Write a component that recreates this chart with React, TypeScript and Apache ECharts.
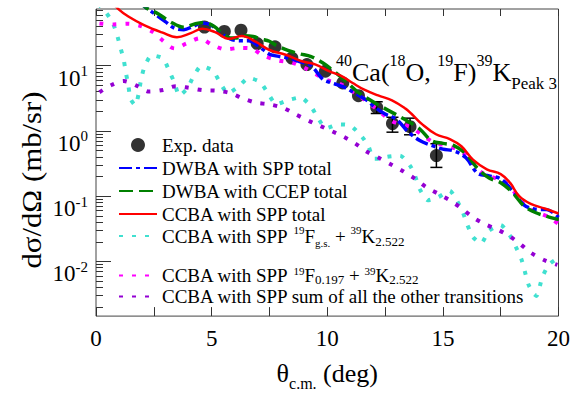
import React, { useEffect, useRef } from 'react';
import * as echarts from 'echarts';

// ---------- data (θ in deg, dσ/dΩ in mb/sr) ----------
const expTheta = [4.69, 5.55, 6.27, 6.97, 7.74, 8.47, 9.12, 9.92, 10.67, 11.35, 12.14, 12.82, 13.58, 14.72];
const expValue = [39.2, 33.5, 35.0, 21.8, 19.5, 13.1, 10.4, 8.25, 5.44, 3.47, 2.28, 1.30, 1.16, 0.419];
const errTheta = [12.14, 12.82, 13.58, 14.72];
const errLow = [1.85, 0.957, 0.873, 0.276];
const errHigh = [2.8, 1.62, 1.57, 0.637];

const redTheta = [0.5, 0.97, 1.4, 2.1, 2.85, 3.5, 4.1, 4.6, 5.15, 5.75, 6.3, 6.9, 7.5, 8.2, 8.9, 9.5, 10.1, 10.6, 11.1, 11.6, 12.2, 12.8, 13.4, 13.65, 14.1, 14.7, 15.3, 15.8, 16.3, 16.9, 17.5, 17.9, 18.3, 18.8, 19.4, 20];
const redValue = [112, 73.8, 56.8, 41.5, 32.4, 27.4, 31.6, 36.8, 32.7, 25.8, 28.6, 23.3, 17.4, 14.7, 11.7, 10.4, 8.17, 7.01, 5.43, 4.29, 3.50, 2.95, 2.18, 1.82, 1.27, 0.889, 0.750, 0.582, 0.363, 0.258, 0.218, 0.161, 0.100, 0.0762, 0.0646, 0.0543];

const greenTheta = [1.8, 2.2, 2.7, 3.2, 3.8, 4.3, 4.7, 5.1, 5.5, 5.8, 6.1, 6.4, 6.8, 7.1, 7.5, 7.8, 8.3, 8.8, 9.3, 9.8, 10.3, 10.8, 11.3, 11.8, 12.3, 12.9, 13.5, 14.0, 14.5, 15.0, 15.5, 16.0, 16.5, 17.0, 17.5, 18.0, 18.5, 19.0, 19.5, 20];
const greenValue = [100, 76.2, 62.2, 47.4, 38.7, 44.0, 45.9, 40.1, 30.5, 26.7, 26.7, 28.8, 28.1, 25.8, 23.7, 20.4, 17.2, 15.2, 13.8, 11.1, 8.17, 5.82, 4.01, 3.05, 2.41, 1.84, 1.40, 1.07, 0.713, 0.644, 0.592, 0.444, 0.267, 0.190, 0.161, 0.115, 0.0713, 0.0562, 0.0491, 0.0437];

const blueTheta = [1.8, 2.2, 2.6, 3.0, 3.4, 3.8, 4.2, 4.6, 5.0, 5.4, 5.8, 6.2, 6.6, 7.0, 7.5, 7.9, 8.3, 8.8, 9.3, 9.8, 10.2, 10.7, 11.2, 11.7, 12.1, 12.5, 13.0, 13.5, 14.0, 14.5, 15.0, 15.5, 16.0, 16.5, 17.0, 17.5, 18.0, 18.5, 19.0, 19.5, 20];
const blueValue = [100, 75.9, 60.1, 47.4, 37.5, 35.6, 40.1, 45.1, 41.5, 31.6, 25.8, 24.1, 24.1, 20.4, 15.0, 13.9, 13.1, 11.6, 10.0, 6.22, 5.43, 4.74, 3.78, 2.96, 2.25, 1.82, 1.50, 0.966, 0.713, 0.601, 0.526, 0.491, 0.387, 0.225, 0.204, 0.184, 0.122, 0.0738, 0.0632, 0.0622, 0.0474];

const magentaTheta = [0.15, 0.75, 1.35, 1.9, 2.45, 2.9, 3.4, 3.9, 4.5, 5.0, 5.6, 6.2, 6.7, 7.2, 7.9, 8.5, 9.0, 9.5, 10.0, 10.6, 11.3, 12.1, 12.8, 13.6, 14.1, 14.6, 15.1, 15.6, 16.1, 16.6, 17.1, 17.6, 18.1, 18.6, 19.1, 19.6, 20];
const magentaValue = [44.4, 42.9, 44.0, 41.0, 33.0, 24.1, 18.4, 21.8, 26.3, 21.1, 17.8, 18.7, 18.4, 14.5, 12.0, 11.1, 9.35, 7.45, 6.01, 5.16, 3.62, 2.22, 1.41, 1.15, 0.873, 0.667, 0.601, 0.526, 0.401, 0.241, 0.197, 0.172, 0.115, 0.0689, 0.0562, 0.0474, 0.0375];

const purpleTheta = [0.15, 0.65, 1.2, 1.8, 2.3, 2.9, 3.45, 4.0, 4.6, 5.2, 5.8, 6.3, 6.9, 7.5, 8.1, 8.6, 9.2, 9.7, 10.2, 10.7, 11.2, 11.7, 12.3, 12.8, 13.3, 13.8, 14.3, 14.8, 15.3, 15.8, 16.3, 16.8, 17.4, 17.9, 18.4, 18.8, 19.4, 19.95];
const purpleValue = [3.92, 5.02, 5.82, 4.86, 4.01, 4.25, 4.86, 4.59, 4.22, 4.15, 3.81, 3.21, 2.72, 2.55, 2.25, 1.82, 1.43, 1.19, 0.991, 0.817, 0.644, 0.483, 0.375, 0.301, 0.239, 0.184, 0.136, 0.109, 0.0865, 0.0655, 0.0474, 0.0375, 0.0303, 0.0241, 0.0178, 0.0136, 0.0104, 0.00883];

const cyanTheta = [0.1, 0.35, 0.7, 0.9, 1.05, 1.2, 1.3, 1.4, 1.5, 1.7, 1.85, 1.95, 2.1, 2.4, 2.9, 3.15, 3.4, 3.6, 3.95, 4.2, 4.55, 5.05, 5.35, 5.7, 6.15, 6.6, 7.1, 7.45, 7.8, 8.3, 8.85, 9.3, 9.6, 9.95, 10.5, 11.0, 11.5, 11.8, 12.0, 12.35, 12.6, 13.15, 13.6, 13.8, 14.0, 14.35, 14.8, 15.3, 15.6, 15.85, 16.05, 16.3, 16.65, 17.0, 17.5, 17.9, 18.15, 18.4, 18.55, 18.7, 18.9, 19.05, 19.3, 19.6, 20];
const cyanValue = [89.1, 71.3, 47.4, 30.5, 19.4, 12.2, 7.62, 4.91, 3.05, 2.47, 3.78, 6.22, 9.66, 14.5, 12.9, 8.53, 5.43, 3.47, 4.48, 6.67, 9.91, 8.43, 5.62, 3.78, 4.74, 6.50, 5.62, 3.71, 2.55, 2.96, 3.27, 2.36, 1.57, 1.10, 1.26, 1.21, 0.817, 0.562, 0.375, 0.375, 0.401, 0.419, 0.286, 0.204, 0.128, 0.0865, 0.0966, 0.121, 0.0865, 0.0582, 0.0371, 0.0236, 0.0188, 0.0296, 0.0362, 0.0249, 0.0168, 0.0107, 0.00689, 0.00444, 0.00327, 0.00295, 0.00575, 0.00904, 0.0113];

// ---------- axes ----------
const xMin = 0;
const xMax = 20;
const xTickStep = 2.5;
const xLabels = [0, 5, 10, 15, 20];
const yMin = 0.00145;
const yMax = 74;
const yMajorTicks = [0.01, 0.1, 1, 10];
const yMinorMultipliers = [2, 3, 4, 5, 6, 7, 8, 9];
const yMinorDecades = [0.001, 0.01, 0.1, 1, 10];

const N_EXP = 'Exp. data';
const N_DS = 'DWBA with SPP total';
const N_DC = 'DWBA with CCEP total';
const N_CS = 'CCBA with SPP total';
const N_GS = 'CCBA with SPP 19Fg.s. + 39K2.522';
const N_197 = 'CCBA with SPP 19F0.197 + 39K2.522';
const N_SUM = 'CCBA with SPP sum of all the other transitions';

const FONT = 'Liberation Serif';

const lg = (v: number) => Math.log10(v);
const pairs = (t: number[], v: number[]) => t.map((x, i) => [x, lg(v[i])]);

export default function App() {
  const ref = useRef<HTMLDivElement>(null);
  useEffect(() => {
    if (!ref.current) return;
    const chart = echarts.init(ref.current, null, { renderer: 'svg' });
    const minorTicks: number[] = [];
    yMinorDecades.forEach((d) => yMinorMultipliers.forEach((m) => {
      const v = d * m;
      if (v >= yMin && v <= yMax) minorTicks.push(lg(v));
    }));
    const majorTicks = yMajorTicks.map(lg);

    const legendRich = {
      sup: { fontSize: 11, fontFamily: FONT, color: '#000', verticalAlign: 'top', lineHeight: 12 },
      sub: { fontSize: 13, fontFamily: FONT, color: '#000', verticalAlign: 'bottom', lineHeight: 13 },
      subs: { fontSize: 11, fontFamily: FONT, color: '#000', verticalAlign: 'bottom', lineHeight: 12 },
    };
    const legendFormatter = (name: string) => {
      if (name === N_GS) return 'CCBA with SPP {sup|19}F{subs|g.s.} + {sup|39}K{sub|2.522}';
      if (name === N_197) return 'CCBA with SPP {sup|19}F{sub|0.197} + {sup|39}K{sub|2.522}';
      return name;
    };
    const legendBase = {
      orient: 'vertical',
      left: 118,
      padding: 0,
      itemWidth: 38,
      itemHeight: 14,
      itemGap: 0,
      formatter: legendFormatter,
      selectedMode: false,
    };

    const lineBase = { type: 'line', symbol: 'none', showSymbol: false, clip: true, z: 3 };

    chart.setOption({
      animation: false,
      backgroundColor: '#fff',
      grid: { left: 96, right: 12, top: 9, bottom: 67, show: true, borderColor: '#444', borderWidth: 1, backgroundColor: 'transparent' },
      title: {
        text: '{sup|40}Ca({sup|18}O, {sup|19}F){sup|39}K{sub|Peak 3}',
        left: 336,
        top: 52,
        padding: 0,
        textStyle: {
          fontFamily: FONT, fontSize: 26, fontWeight: 'normal', color: '#000', lineHeight: 40,
          rich: {
            sup: { fontFamily: FONT, fontSize: 16, color: '#000', verticalAlign: 'top', lineHeight: 16 },
            sub: { fontFamily: FONT, fontSize: 17, color: '#000', verticalAlign: 'bottom', lineHeight: 17 },
          },
        },
      },
      legend: [
        { ...legendBase, top: 134, itemGap: 1, data: [{ name: N_EXP, icon: 'circle' }, N_DS, N_DC, N_CS],
          textStyle: { fontFamily: FONT, fontSize: 19, color: '#000', lineHeight: 22 } },
        { ...legendBase, top: 224, data: [N_GS],
          textStyle: { fontFamily: FONT, fontSize: 19, color: '#000', lineHeight: 24, rich: legendRich } },
        { ...legendBase, top: 265, data: [N_197, N_SUM],
          textStyle: { fontFamily: FONT, fontSize: 19, color: '#000', lineHeight: 21, rich: legendRich } },
      ],
      xAxis: [
        {
          type: 'value', min: xMin, max: xMax, interval: xTickStep, position: 'bottom',
          axisLine: { show: false, onZero: false }, splitLine: { show: false },
          axisTick: { inside: true, length: 9, lineStyle: { color: '#333' } },
          axisLabel: { customValues: xLabels, fontFamily: FONT, fontSize: 23, color: '#000', margin: 11 },
          name: '{t|θ}{s|c.m.}{t| (deg)}', nameLocation: 'middle', nameGap: 30,
          nameTextStyle: {
            fontFamily: FONT, color: '#000', lineHeight: 36,
            rich: {
              t: { fontFamily: FONT, fontSize: 26, color: '#000', lineHeight: 36 },
              s: { fontFamily: FONT, fontSize: 16, color: '#000', verticalAlign: 'bottom', lineHeight: 16 },
            },
          },
        },
        {
          type: 'value', min: xMin, max: xMax, interval: xTickStep, position: 'top',
          axisLine: { show: false, onZero: false }, splitLine: { show: false },
          axisTick: { inside: true, length: 7, lineStyle: { color: '#333' } },
          axisLabel: { show: false },
        },
      ],
      yAxis: [
        {
          type: 'value', min: lg(yMin), max: lg(yMax), position: 'left',
          axisLine: { show: false, onZero: false }, splitLine: { show: false },
          axisTick: { inside: true, length: 15, customValues: majorTicks, lineStyle: { color: '#333' } },
          axisLabel: {
            customValues: majorTicks, margin: 8, padding: [22, 0, 0, 0],
            formatter: (v: number) => `{b|10}{s|${Math.round(v)}}`,
            rich: {
              b: { fontFamily: FONT, fontSize: 23, color: '#000', verticalAlign: 'bottom', lineHeight: 26 },
              s: { fontFamily: FONT, fontSize: 15, color: '#000', verticalAlign: 'top', lineHeight: 15 },
            },
          },
        },
        {
          type: 'value', min: lg(yMin), max: lg(yMax), position: 'left',
          axisLine: { show: false, onZero: false }, splitLine: { show: false },
          axisTick: { inside: true, length: 7, customValues: minorTicks, lineStyle: { color: '#333' } },
          axisLabel: { show: false },
        },
      ],
      graphic: [
        {
          type: 'text', x: 31, y: 180, rotation: Math.PI / 2, scaleX: 1.1,
          style: { text: 'dσ/dΩ (mb/sr)', fontFamily: FONT, fontSize: 28, fill: '#000', align: 'center', verticalAlign: 'middle' },
        },
      ],
      series: [
        {
          name: N_EXP, type: 'scatter', symbol: 'circle', symbolSize: 13,
          itemStyle: { color: '#000' }, data: pairs(expTheta, expValue), z: 2,
        },
        {
          name: 'error', type: 'custom', z: 2,
          data: errTheta.map((t, i) => [t, lg(errLow[i]), lg(errHigh[i])]),
          encode: { x: 0, y: [1, 2] },
          renderItem: (params: any, api: any) => {
            const p1 = api.coord([api.value(0), api.value(1)]);
            const p2 = api.coord([api.value(0), api.value(2)]);
            const w = 6;
            const st = { stroke: '#000', lineWidth: 1.5 };
            return {
              type: 'group',
              children: [
                { type: 'line', shape: { x1: p1[0], y1: p1[1], x2: p2[0], y2: p2[1] }, style: st },
                { type: 'line', shape: { x1: p1[0] - w, y1: p1[1], x2: p1[0] + w, y2: p1[1] }, style: st },
                { type: 'line', shape: { x1: p2[0] - w, y1: p2[1], x2: p2[0] + w, y2: p2[1] }, style: st },
              ],
            };
          },
        },
        {
          ...lineBase, name: N_GS, data: pairs(cyanTheta, cyanValue), smooth: 0.2,
          lineStyle: { color: '#40e0d0', width: 4, type: [4, 9], cap: 'butt' }, itemStyle: { color: '#40e0d0', opacity: 0 },
        },
        {
          ...lineBase, name: N_SUM, data: pairs(purpleTheta, purpleValue), smooth: 0.3,
          lineStyle: { color: '#9400d3', width: 4, type: [4, 9], cap: 'butt' }, itemStyle: { color: '#9400d3', opacity: 0 },
        },
        {
          ...lineBase, name: N_197, data: pairs(magentaTheta, magentaValue), smooth: 0.3,
          lineStyle: { color: '#ff00ff', width: 4, type: [4, 9], cap: 'butt' }, itemStyle: { color: '#ff00ff', opacity: 0 },
        },
        {
          ...lineBase, name: N_DS, data: pairs(blueTheta, blueValue), smooth: 0.35,
          lineStyle: { color: '#0000ff', width: 3.5, type: [13, 4, 4, 4], cap: 'butt' }, itemStyle: { color: '#0000ff', opacity: 0 },
        },
        {
          ...lineBase, name: N_DC, data: pairs(greenTheta, greenValue), smooth: 0.35,
          lineStyle: { color: '#008000', width: 3.5, type: [14, 6], cap: 'butt' }, itemStyle: { color: '#008000', opacity: 0 },
        },
        {
          ...lineBase, name: N_CS, data: pairs(redTheta, redValue), smooth: 0.4,
          lineStyle: { color: '#ff0000', width: 2.5, type: 'solid' }, itemStyle: { color: '#ff0000', opacity: 0 },
        },
      ],
    } as any);
    return () => chart.dispose();
  }, []);
  return <div ref={ref} style={{ position: 'fixed', left: 0, top: 0, width: 573, height: 396, background: '#fff' }} />;
}
